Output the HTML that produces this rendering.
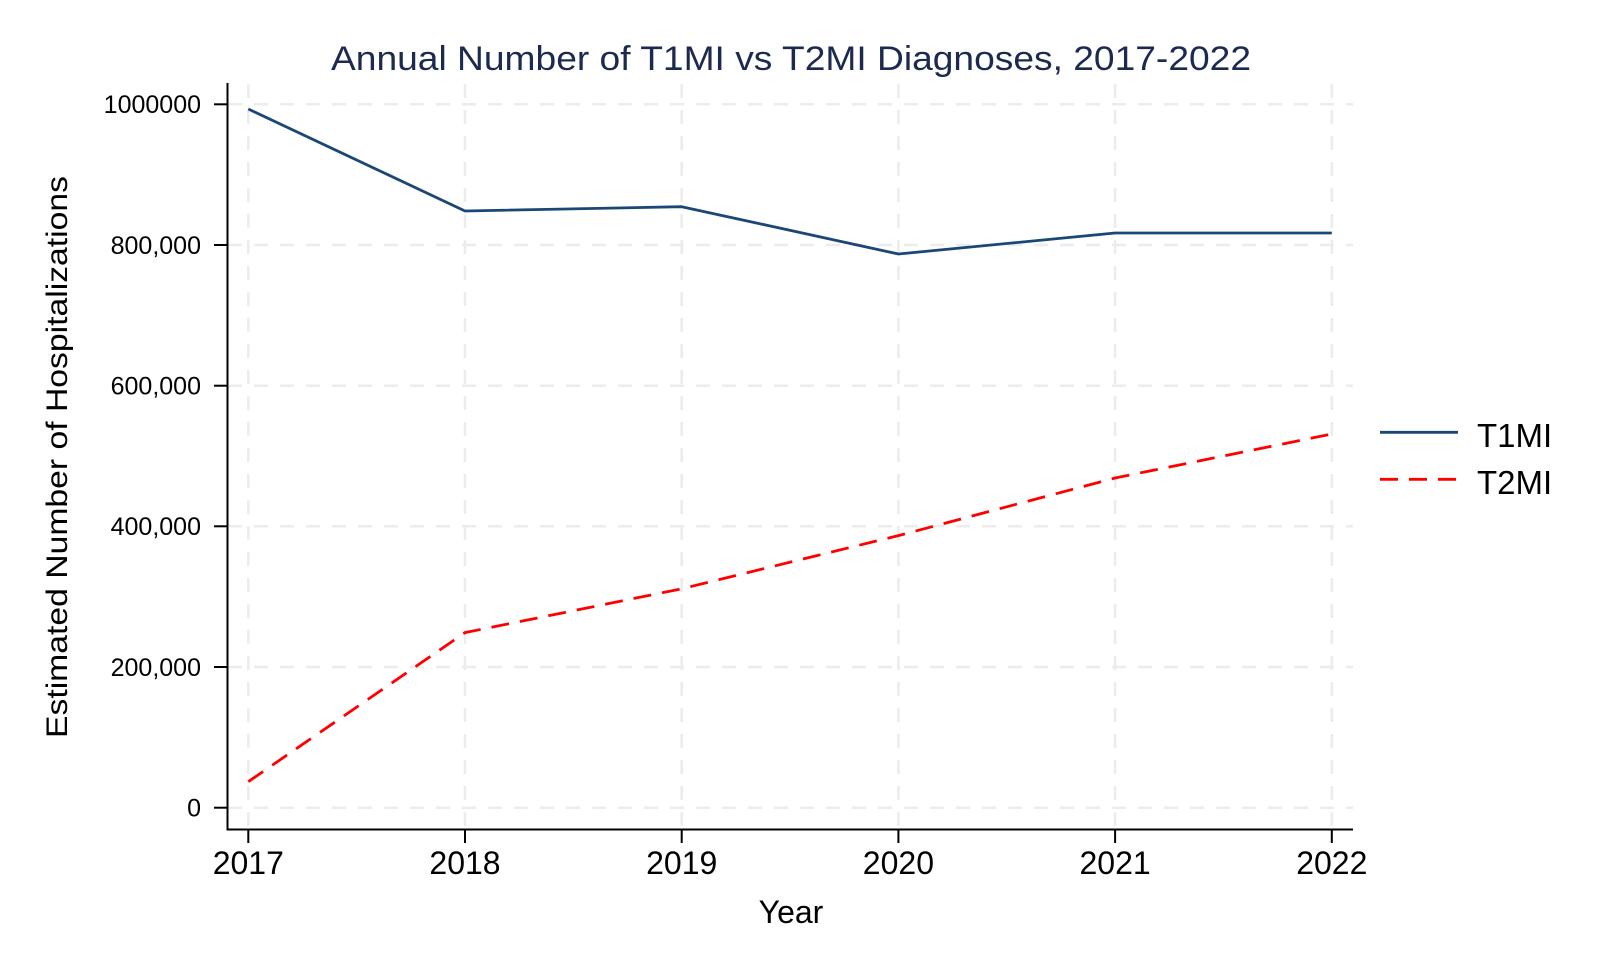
<!DOCTYPE html>
<html><head><meta charset="utf-8"><style>html,body{margin:0;padding:0;background:#fff}svg{display:block}</style></head>
<body>
<svg width="1620" height="972" viewBox="0 0 1620 972" xmlns="http://www.w3.org/2000/svg" font-family="Liberation Sans, Arial, sans-serif">
<rect width="1620" height="972" fill="#fff"/>
<g stroke="#ececec" stroke-width="2.5" stroke-dasharray="14,12">
<line x1="228" y1="104.3" x2="1353" y2="104.3"/>
<line x1="228" y1="245" x2="1353" y2="245"/>
<line x1="228" y1="385.7" x2="1353" y2="385.7"/>
<line x1="228" y1="526.3" x2="1353" y2="526.3"/>
<line x1="228" y1="667" x2="1353" y2="667"/>
<line x1="228" y1="807.7" x2="1353" y2="807.7"/>
<line x1="248.3" y1="84" x2="248.3" y2="829"/>
<line x1="465" y1="84" x2="465" y2="829"/>
<line x1="681.7" y1="84" x2="681.7" y2="829"/>
<line x1="898.4" y1="84" x2="898.4" y2="829"/>
<line x1="1115.1" y1="84" x2="1115.1" y2="829"/>
<line x1="1331.8" y1="84" x2="1331.8" y2="829"/>
</g>
<g stroke="#000" stroke-width="2" fill="none">
<polyline points="227.5,83 227.5,829.5 1353,829.5"/>
<line x1="214" y1="104.3" x2="227" y2="104.3"/>
<line x1="214" y1="245" x2="227" y2="245"/>
<line x1="214" y1="385.7" x2="227" y2="385.7"/>
<line x1="214" y1="526.3" x2="227" y2="526.3"/>
<line x1="214" y1="667" x2="227" y2="667"/>
<line x1="214" y1="807.7" x2="227" y2="807.7"/>
<line x1="248.3" y1="830" x2="248.3" y2="843"/>
<line x1="465" y1="830" x2="465" y2="843"/>
<line x1="681.7" y1="830" x2="681.7" y2="843"/>
<line x1="898.4" y1="830" x2="898.4" y2="843"/>
<line x1="1115.1" y1="830" x2="1115.1" y2="843"/>
<line x1="1331.8" y1="830" x2="1331.8" y2="843"/>
</g>
<g font-size="25" text-anchor="end" fill="#000">
<text x="201" y="113">1000000</text>
<text x="201" y="254">800,000</text>
<text x="201" y="394.5">600,000</text>
<text x="201" y="535">400,000</text>
<text x="201" y="676">200,000</text>
<text x="201" y="816.5">0</text>
</g>
<g font-size="32" text-anchor="middle" fill="#000">
<text x="248.3" y="874">2017</text>
<text x="465" y="874">2018</text>
<text x="681.7" y="874">2019</text>
<text x="898.4" y="874">2020</text>
<text x="1115.1" y="874">2021</text>
<text x="1331.8" y="874">2022</text>
<text x="791" y="923">Year</text>
</g>
<text x="791" y="70" font-size="34" text-anchor="middle" fill="#1b2a4e" textLength="920" lengthAdjust="spacingAndGlyphs">Annual Number of T1MI vs T2MI Diagnoses, 2017-2022</text>
<text transform="translate(67,457) rotate(-90)" font-size="30" text-anchor="middle" fill="#000" textLength="562" lengthAdjust="spacingAndGlyphs">Estimated Number of Hospitalizations</text>
<polyline fill="none" stroke="#1a4775" stroke-width="2.8" stroke-linejoin="round" points="248.3,109 465,211 681.7,206.7 898.4,254 1115.1,233 1331.8,233"/>
<polyline fill="none" stroke="#ff0000" stroke-width="2.8" stroke-dasharray="18,11" points="248.3,781.7 465,632.6 681.7,588.8 898.4,535.6 1115.1,478 1331.8,434"/>
<line x1="1380" y1="432.3" x2="1458" y2="432.3" stroke="#1a4775" stroke-width="2.8"/>
<line x1="1380" y1="479.3" x2="1458" y2="479.3" stroke="#ff0000" stroke-width="2.8" stroke-dasharray="18,11"/>
<g font-size="33" fill="#000">
<text x="1477" y="447">T1MI</text>
<text x="1477" y="494">T2MI</text>
</g>
</svg>
</body></html>
